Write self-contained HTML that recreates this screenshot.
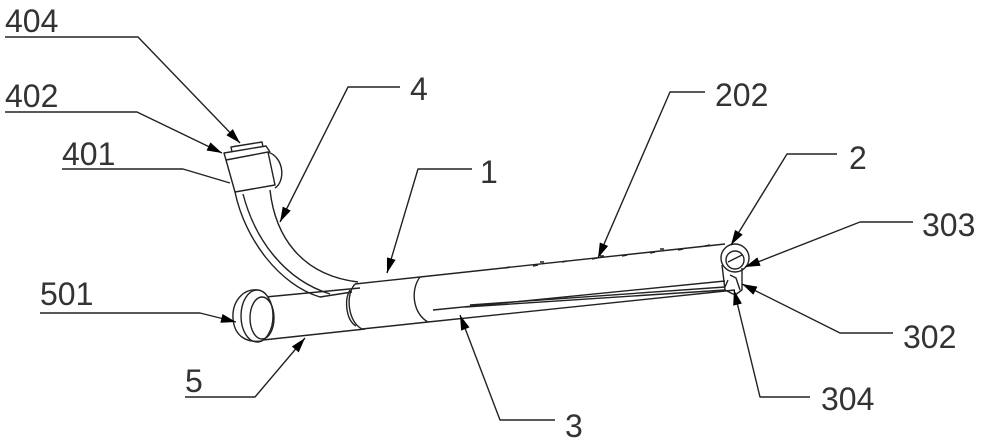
<!DOCTYPE html>
<html><head><style>body{margin:0;background:#fff}svg{display:block}text{font-family:"Liberation Sans",sans-serif;font-size:32px;fill:#333}</style></head>
<body>
<svg width="1000" height="445" viewBox="0 0 1000 445">
<defs><marker id="a" viewBox="0 0 10 6" refX="10" refY="3" markerWidth="18" markerHeight="9" markerUnits="userSpaceOnUse" orient="auto"><path d="M0,0L10,3L0,6z" fill="#000"/></marker></defs>
<g fill="none" stroke="#222" stroke-width="1.4" stroke-linejoin="round">
<!-- bent tube -->
<path d="M235,192 C245,240 280,285 320,297 L352,292"/>
<path d="M270,190 C275,235 300,275 358,282"/>
<path d="M243,194 C255,240 285,280 330,294"/>
<!-- cap 401 -->
<path d="M226,160 L268,152 L275,185 L235,192 Z" fill="#fff"/>
<path d="M268,152 C285,158 285,182 275,188"/>
<path d="M226,160 L224,153 L266,146 L270,152"/>
<path d="M232,152 L231,147 L262,142 L263,147"/>
<!-- lower tube 5 -->
<path d="M255,298 L360,288"/>
<path d="M263,340 L365,329"/>
<ellipse cx="257" cy="316" rx="16" ry="26" fill="#fff"/>
<path d="M257,290 C245,288 232,300 233,318 C234,336 246,343 262,341"/>
<ellipse cx="262" cy="318" rx="12" ry="21"/>
<!-- sleeve 1 -->
<path d="M355,284 L420,277 M362,329 L428,322"/>
<path d="M355,284 C345,295 348,322 362,329"/>
<path d="M350,290 C344,300 346,320 356,326"/>
<!-- main tube 3 -->
<path d="M420,277 L725,244"/>
<path d="M428,322 L735,290"/>
<path d="M420,277 C410,290 413,314 428,322"/>
<path d="M433,310 L725,281" />
<path d="M470,305 L725,287 L728,280"/>
<path d="M465,307 L725,290"/>
<!-- holes -->
<g stroke-width="1.6">
<path d="M505,268l5,-1M533,266l5,-1M562,262l5,-1M592,259l5,-1M622,256l5,-1M650,253l5,-1M678,250l5,-1M705,246l5,-1M540,262l4,0M600,256l4,0M660,249l4,0"/>
</g>
<!-- end -->
<ellipse cx="735" cy="258" rx="14" ry="14" fill="#fff"/>
<ellipse cx="735" cy="260" rx="9" ry="9"/>
<path d="M728,262 L742,255"/>
<path d="M722,265 L725,290 L735,295 L742,290 L742,268"/>
<path d="M730,275 L736,278 L740,290"/>
<!-- leaders -->
<path d="M5,37 L138,37 L240,143" marker-end="url(#a)"/>
<path d="M5,112 L137,112 L222,153" marker-end="url(#a)"/>
<path d="M62,169 L183,169 L230,183"/>
<path d="M400,87 L348,87 L280,222" marker-end="url(#a)"/>
<path d="M705,92 L670,92 L598,258" marker-end="url(#a)"/>
<path d="M472,169 L418,169 L387,273" marker-end="url(#a)"/>
<path d="M837,154 L787,154 L731,245" marker-end="url(#a)"/>
<path d="M913,222 L860,222 L745,267" marker-end="url(#a)"/>
<path d="M40,313 L200,313 L236,322" marker-end="url(#a)"/>
<path d="M893,333 L840,333 L742,284" marker-end="url(#a)"/>
<path d="M185,397 L255,397 L305,338" marker-end="url(#a)"/>
<path d="M555,420 L500,420 L460,315" marker-end="url(#a)"/>
<path d="M810,397 L760,397 L734,290" marker-end="url(#a)"/>
</g>
<text x="5" y="32">404</text>
<text x="5" y="107">402</text>
<text x="62" y="165">401</text>
<text x="410" y="100">4</text>
<text x="715" y="106">202</text>
<text x="480" y="183">1</text>
<text x="849" y="169">2</text>
<text x="922" y="236">303</text>
<text x="40" y="305">501</text>
<text x="903" y="348">302</text>
<text x="185" y="392">5</text>
<text x="565" y="437">3</text>
<text x="821" y="410">304</text>
</svg>
</body></html>
